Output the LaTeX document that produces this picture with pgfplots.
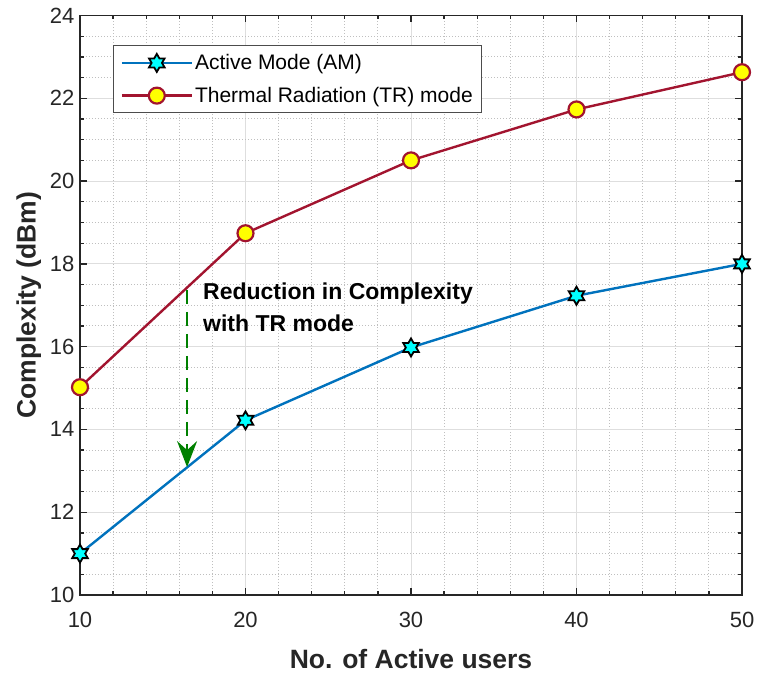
\documentclass[border=0pt]{standalone}
\usepackage{pgfplots}
\pgfplotsset{compat=1.18}
\usepackage{fontspec}
\setmainfont{Liberation Sans}
\usetikzlibrary{arrows.meta,calc}

\definecolor{mblue}{rgb}{0,0.447,0.741}
\definecolor{mred}{rgb}{0.635,0.078,0.184}
\definecolor{mgreen}{rgb}{0,0.5,0}
\definecolor{mcyan}{rgb}{0,1,1}
\definecolor{myellow}{rgb}{1,1,0}
\definecolor{axcol}{gray}{0.15}

% six-pointed star like matlab's hexagram
\pgfdeclareplotmark{hexagram}{%
  \pgfpathmoveto{\pgfpointpolar{90}{\pgfplotmarksize}}%
  \pgfpathlineto{\pgfpointpolar{120}{0.577\pgfplotmarksize}}%
  \pgfpathlineto{\pgfpointpolar{150}{\pgfplotmarksize}}%
  \pgfpathlineto{\pgfpointpolar{180}{0.577\pgfplotmarksize}}%
  \pgfpathlineto{\pgfpointpolar{210}{\pgfplotmarksize}}%
  \pgfpathlineto{\pgfpointpolar{240}{0.577\pgfplotmarksize}}%
  \pgfpathlineto{\pgfpointpolar{270}{\pgfplotmarksize}}%
  \pgfpathlineto{\pgfpointpolar{300}{0.577\pgfplotmarksize}}%
  \pgfpathlineto{\pgfpointpolar{330}{\pgfplotmarksize}}%
  \pgfpathlineto{\pgfpointpolar{0}{0.577\pgfplotmarksize}}%
  \pgfpathlineto{\pgfpointpolar{30}{\pgfplotmarksize}}%
  \pgfpathlineto{\pgfpointpolar{60}{0.577\pgfplotmarksize}}%
  \pgfpathclose\pgfusepathqfillstroke}

\begin{document}
\begin{tikzpicture}
\begin{axis}[
    name=ax,
    scale only axis,
    width=662pt, height=579.5pt,
    xmin=10, xmax=50, ymin=10, ymax=24,
    xtick={10,20,30,40,50},
    ytick={10,12,...,24},
    minor x tick num=4,
    minor y tick num=3,
    grid=both,
    major grid style={line width=1pt, black!13},
    minor grid style={line width=1pt, black!25, dotted},
    tick align=inside,
    major tick length=7pt,
    minor tick length=4pt,
    tick style={line width=1.3pt, axcol},
    axis line style={line width=1.3pt, axcol},
    ticklabel style={font=\fontsize{22}{26}\selectfont, text=axcol},
    /pgf/number format/assume math mode=true,
    xticklabel style={yshift=-14pt},
    yticklabel style={xshift=-2pt},
    xlabel={\textbf{No. of Active users}},
    ylabel={\textbf{Complexity (dBm)}},
    label style={font=\fontsize{26.5}{30}\selectfont, text=axcol},
    xlabel style={yshift=-14pt},
    ylabel style={yshift=2pt},
    legend cell align=left,
    legend style={at={(0.05,0.949)}, anchor=north west,
        font=\fontsize{21}{25}\selectfont,
        draw=black!70, line width=1pt,
        inner xsep=7pt, inner ysep=7pt,
        row sep=12pt},
    legend image code/.code={%
        \draw[mark repeat=2, mark phase=2, #1]
        plot coordinates {(0pt,0pt) (35pt,0pt) (70pt,0pt)};},
]
\addplot[mblue, line width=2.4pt, mark=hexagram, mark size=9pt,
    mark options={fill=mcyan, draw=black, line width=1.8pt, solid}]
    coordinates {(10,11.0) (20,14.22) (30,15.98) (40,17.23) (50,18.0)};
\addlegendentry{Active Mode (AM)}
\addplot[mred, line width=2.4pt, mark=*, mark size=8pt,
    mark options={fill=myellow, draw=mred, line width=2.2pt, solid}]
    coordinates {(10,15.02) (20,18.74) (30,20.5) (40,21.73) (50,22.63)};
\addlegendentry{Thermal Radiation (TR) mode}

\draw[mgreen, line width=2.4pt, dash pattern=on 14pt off 8pt,
    -{Stealth[length=26pt, width=20pt, inset=9pt]}]
    (axis cs:16.47,17.37) -- (axis cs:16.47,13.09);
\node[anchor=north west, align=left, font=\bfseries\fontsize{23}{32}\selectfont,
    inner sep=0pt] at (axis cs:17.43,17.54)
    {Reduction in Complexity\\with TR mode};
\end{axis}
\pgfresetboundingbox
\path[use as bounding box] ($(ax.south west)+(-80pt,-78pt)$)
    rectangle ($(ax.north east)+(16pt,15.5pt)$);
\end{tikzpicture}
\end{document}
